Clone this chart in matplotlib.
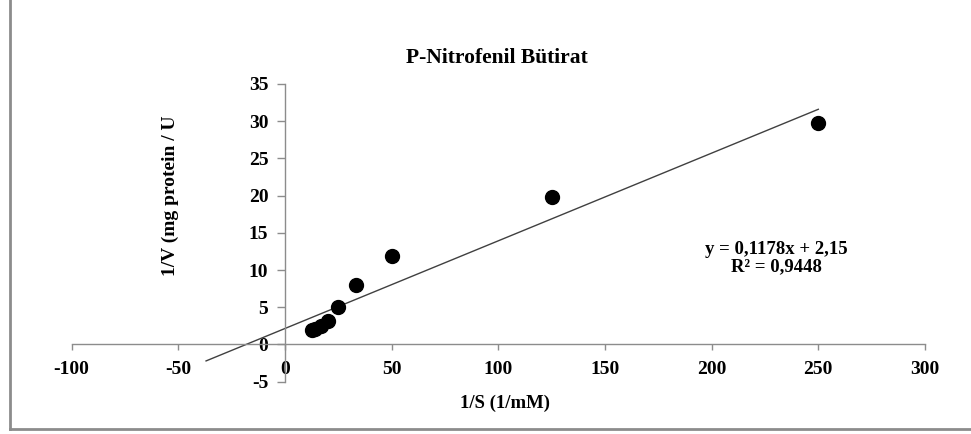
import matplotlib.pyplot as plt
from matplotlib.lines import Line2D
import numpy as np

plt.rcParams['font.family'] = ['Liberation Serif', 'DejaVu Serif']
plt.rcParams['axes.unicode_minus'] = False

# data
inv_s = [12.5, 14.3, 16.7, 20, 25, 33.3, 50, 125, 250]
inv_v = [2.0, 2.05, 2.5, 3.1, 5.1, 8.0, 11.9, 19.8, 29.7]
slope, intercept = 0.1178, 2.15
fit_x = [-37, 250]
x_ticks = [-100, -50, 0, 50, 100, 150, 200, 250, 300]
y_ticks = [-5, 0, 5, 10, 15, 20, 25, 30, 35]

fig = plt.figure(figsize=(9.71, 4.34), dpi=100)
# chart frame (only left and bottom edges visible in the crop)
fx0, fy0 = 9.5 / 971, 1 - 429 / 434
fig.lines.append(Line2D([fx0, fx0], [fy0, 1.0], transform=fig.transFigure,
                        color='#8c8c8c', lw=2))
fig.lines.append(Line2D([fx0, 1.0], [fy0, fy0], transform=fig.transFigure,
                        color='#8c8c8c', lw=2))

ax = fig.add_axes([0.0738, 0.1205, 0.8788, 0.686])
ax.set_xlim(-100, 300)
ax.set_ylim(-5, 35)

for s in ('top', 'right'):
    ax.spines[s].set_visible(False)
ax.spines['left'].set_position(('data', 0))
ax.spines['bottom'].set_position(('data', 0))
for s in ('left', 'bottom'):
    ax.spines[s].set_color('#8c8c8c')
    ax.spines[s].set_linewidth(1.0)

ax.set_xticks(x_ticks)
ax.set_yticks(y_ticks)
ax.tick_params(axis='x', direction='out', length=4, width=1, color='#8c8c8c', pad=8,
               labelsize=14)
ax.tick_params(axis='y', direction='out', length=6, width=1, color='#8c8c8c', pad=6,
               labelsize=14)
for lab in ax.get_xticklabels() + ax.get_yticklabels():
    lab.set_fontweight('bold')

fx = np.array(fit_x)
ax.plot(fx, slope * fx + intercept, color='#404040', lw=1.0, zorder=2)
ax.plot(inv_s, inv_v, 'o', color='black', markersize=10, zorder=3)

fig.text(0.512, 0.866, 'P-Nitrofenil Bütirat', ha='center', va='center',
         fontsize=15.5, fontweight='bold')
fig.text(0.175, 0.55, '1/V (mg protein / U', ha='center', va='center', rotation=90,
         fontsize=14, fontweight='bold')
fig.text(0.520, 0.071, '1/S (1/mM)', ha='center', va='center', fontsize=13.5,
         fontweight='bold')
fig.text(0.800, 0.405, 'y = 0,1178x + 2,15\nR² = 0,9448', ha='center', va='center',
         fontsize=13.5, fontweight='bold', linespacing=1.0)

fig.savefig('out.png', dpi=100)
